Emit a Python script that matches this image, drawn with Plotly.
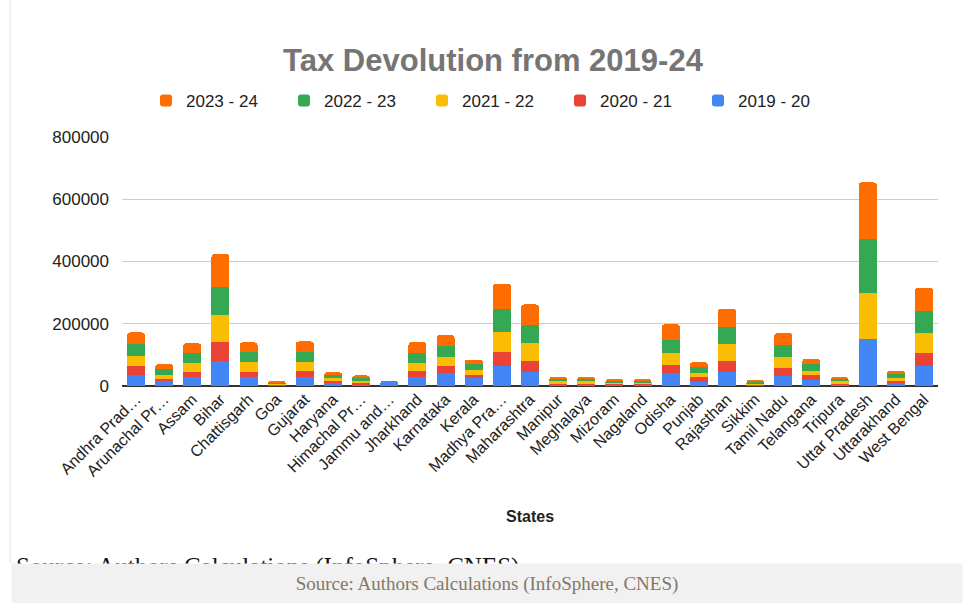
import plotly.graph_objects as go

# States (labels as shown on the axis, long names truncated)
states = ["Andhra Prad…", "Arunachal Pr…", "Assam", "Bihar", "Chattisgarh", "Goa",
          "Gujarat", "Haryana", "Himachal Pr…", "Jammu and…", "Jharkhand", "Karnataka",
          "Kerala", "Madhya Pra…", "Maharashtra", "Manipur", "Meghalaya", "Mizoram",
          "Nagaland", "Odisha", "Punjab", "Rajasthan", "Sikkim", "Tamil Nadu",
          "Telangana", "Tripura", "Uttar Pradesh", "Uttarakhand", "West Bengal"]

# Tax devolution per year (Rs crore)
fy2019_20 = [35000, 15000, 29000, 80000, 29000, 3000, 29000, 9000, 6000, 16000, 29000, 41000,
             25000, 64000, 45000, 5000, 5000, 3500, 3500, 41000, 13000, 45000, 3000, 32000,
             19000, 5000, 150000, 9000, 64000]
fy2020_21 = [29000, 7000, 16000, 60000, 16000, 2000, 19000, 7000, 5000, 0, 19000, 23000,
             10000, 44000, 35000, 4000, 4000, 3000, 3000, 26000, 16000, 35000, 2500, 26000,
             16000, 4000, 0, 8000, 41000]
fy2021_22 = [32000, 13000, 28000, 87000, 32000, 3500, 29000, 10000, 6000, 0, 26000, 28000,
             16000, 67000, 57000, 6000, 6000, 4500, 4500, 38000, 12000, 54000, 3500, 35000,
             13000, 6000, 150000, 10000, 64000]
fy2022_23 = [38000, 19000, 32000, 92000, 31000, 4000, 31000, 9000, 9000, 0, 32000, 36000,
             19000, 74000, 58000, 7000, 8000, 5500, 5500, 42000, 20000, 57000, 4000, 38000,
             22000, 7000, 172000, 10000, 73000]
fy2023_24 = [38000, 16000, 32000, 105000, 32000, 4000, 35000, 9000, 8000, 0, 35000, 35000,
             15000, 79000, 67000, 7000, 7000, 5500, 5500, 51000, 15000, 58000, 4000, 39000,
             17000, 7000, 182000, 12000, 74000]

series = [
    ("2019 - 20", fy2019_20, "#4285F4"),
    ("2020 - 21", fy2020_21, "#EA4335"),
    ("2021 - 22", fy2021_22, "#FBBC04"),
    ("2022 - 23", fy2022_23, "#34A853"),
    ("2023 - 24", fy2023_24, "#FF6D01"),
]

FONT = "Arial, Liberation Sans, sans-serif"
SERIF = "Times New Roman, Liberation Serif, serif"

fig = go.Figure()
for name, vals, color in series:
    fig.add_trace(go.Bar(x=states, y=vals, name=name, marker_color=color,
                         marker_line_width=0))

# plot area geometry (pixels) used for placing the extra page elements
L, R, T, B = 122, 938, 137, 386
def px_x(v):
    return (v - L) / (R - L)
def px_y(v):
    return (B - v) / (B - T)

fig.update_layout(
    width=969, height=603,
    margin=dict(l=L, r=969 - R, t=T, b=603 - B),
    paper_bgcolor="white", plot_bgcolor="white",
    barmode="stack", bargap=0.36, barcornerradius=3,
    font=dict(family=FONT, color="#222222"),
    title=dict(text="<b>Tax Devolution from 2019-24</b>", x=493 / 969, xanchor="center",
               y=1 - 60 / 603, yanchor="middle",
               font=dict(family=FONT, size=31, color="#757575")),
    legend=dict(orientation="h", traceorder="reversed", x=px_x(146), xanchor="left",
                y=px_y(101), yanchor="middle", font=dict(size=17, color="#222222"),
                entrywidth=93, entrywidthmode="pixels", itemsizing="constant"),
    showlegend=True,
    xaxis=dict(tickangle=-45, tickfont=dict(size=16, color="#222222"), showgrid=False,
               ticks="", showline=False, automargin=False),
    yaxis=dict(range=[0, 800000], tickvals=[0, 200000, 400000, 600000, 800000],
               ticktext=["0", "200000", "400000", "600000", "800000"],
               tickfont=dict(size=17, color="#222222"), showgrid=True,
               gridcolor="#cccccc", gridwidth=1, zeroline=True, zerolinecolor="#333333",
               zerolinewidth=2, ticklabelstandoff=12, automargin=False),
)

# x-axis title
fig.add_annotation(text="<b>States</b>", x=0.5, y=px_y(516), xref="paper", yref="paper",
                   showarrow=False, xanchor="center", yanchor="middle",
                   font=dict(family=FONT, size=16, color="#222222"))

# page border on the left
fig.add_shape(type="line", xref="paper", yref="paper", x0=px_x(10), x1=px_x(10),
              y0=px_y(0), y1=px_y(563), line=dict(color="#e3e3e3", width=1))

# caption line partly hidden behind the caption strip
fig.add_annotation(text="Source: Authors Calculations (InfoSphere, CNES)",
                   x=px_x(14), y=px_y(551), xref="paper", yref="paper", showarrow=False,
                   xanchor="left", yanchor="top",
                   font=dict(family=SERIF, size=25, color="#111111"))

# caption strip
fig.add_annotation(text="Source: Authors Calculations (InfoSphere, CNES)",
                   x=px_x(487), y=px_y(584), xref="paper", yref="paper", showarrow=False,
                   xanchor="center", yanchor="middle", width=950, height=40,
                   bgcolor="#f1f1f1", borderpad=0, align="center", valign="middle",
                   font=dict(family=SERIF, size=19, color="#857766"))

fig.write_html("out.html")
